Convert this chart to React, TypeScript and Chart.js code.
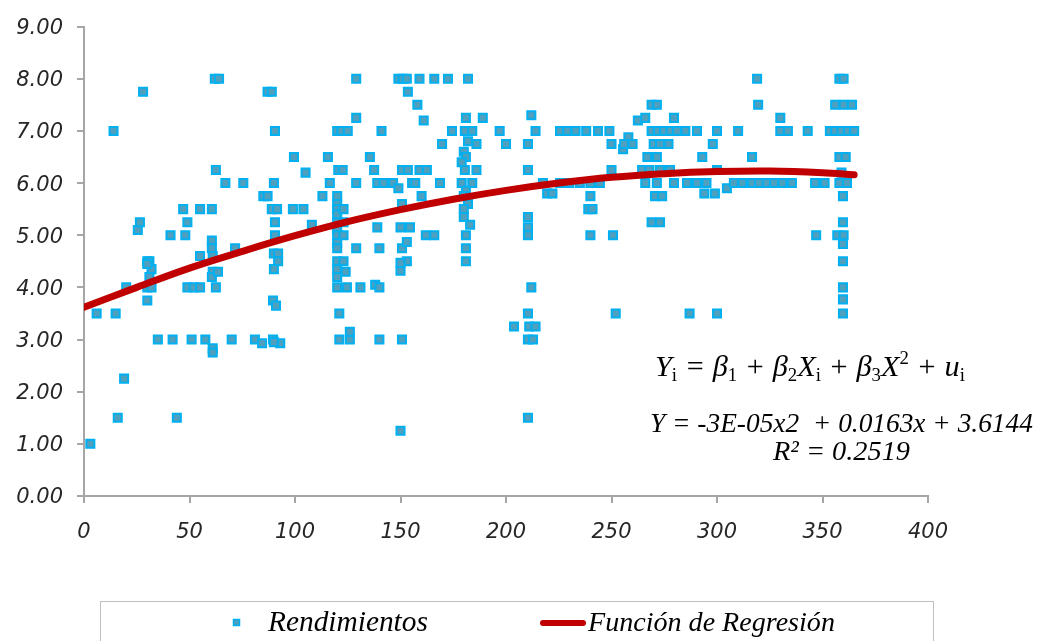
import React, { useEffect, useRef } from 'react';
import { Chart, registerables } from 'chart.js';

Chart.register(...registerables);

// ---- Data: [day, yield] pairs ----
const days0to45: [number, number][] = [
  [3, 1.0], [6, 3.5], [14, 7.0], [15, 3.5], [16, 1.5], [19, 2.25], [20, 4.0],
  [25.5, 5.1], [26.5, 5.25], [28, 7.75], [30, 4.5], [31, 4.5], [32, 4.35], [31, 4.2],
  [30, 4.0], [32, 4.0], [30, 3.75], [30, 4.45], [35, 3.0], [41, 5.0], [42, 3.0], [44, 1.5],
];
const days46to95: [number, number][] = [
  [47, 5.5], [48, 5.0], [49, 5.25], [49, 4.0], [51, 3.0], [52, 4.0], [55, 5.5], [55, 4.6],
  [55, 4.0], [57.5, 3.0], [60.6, 5.5], [60.6, 4.9], [60.6, 4.75], [61, 4.6], [61, 4.3],
  [60.6, 4.2], [61, 2.83], [61, 2.75], [62.5, 6.25], [62.5, 4.0], [63.5, 4.3], [62, 8.0],
  [64, 8.0], [67, 6.0], [70, 3.0], [71.6, 4.75], [75.5, 6.0], [81, 3.0], [84.4, 2.93],
  [85, 5.75], [87, 5.75], [87, 7.75], [89, 7.75], [90.5, 7.0], [90, 6.0], [89, 5.5],
  [91.5, 5.5], [90.5, 5.25], [90.5, 5.0], [90, 4.65], [92, 4.65], [92, 4.5], [90, 4.35],
  [89.6, 3.75], [91, 3.65], [89.6, 3.0], [93, 2.93], [90, 2.95],
];
const days96to146: [number, number][] = [
  [99.5, 6.5], [99, 5.5], [104, 5.5], [105, 6.2], [108, 5.2], [113, 5.75], [115.6, 6.5],
  [116.5, 6.0], [120, 7.0], [122, 7.0], [125, 7.0], [120.5, 6.25], [122.6, 6.25],
  [120, 5.75], [120, 5.6], [120, 5.5], [120, 5.4], [120, 5.25], [120, 5.1], [120, 5.0],
  [120, 4.85], [120, 4.75], [120, 4.5], [120, 4.35], [120, 4.2], [120, 4.0],
  [123, 5.5], [123, 5.25], [123, 5.0], [123, 4.5], [124, 4.3], [124.6, 4.0], [121, 3.5],
  [121, 3.0], [126, 3.0], [126, 3.15], [129, 8.0], [129, 7.25], [129, 6.0], [129, 4.75],
  [131, 4.0], [135.5, 6.5], [137.5, 6.25], [139, 6.0], [142, 6.0], [146.5, 6.0],
  [139, 5.15], [140, 4.75], [138, 4.05], [140, 4.0], [141, 7.0], [140, 3.0],
];
const days147to190: [number, number][] = [
  [149, 8.0], [151, 8.0], [153, 8.0], [153.5, 7.75], [158, 7.5], [159, 8.0], [161, 7.2],
  [166, 8.0], [149, 5.9], [150.7, 6.25], [153.5, 6.25], [150.7, 5.6], [150, 5.15],
  [154.5, 5.15], [150.7, 4.75], [153, 4.87], [153, 4.5], [150, 4.32], [150, 4.47],
  [150.7, 3.0], [150, 1.25], [155.5, 6.0], [157, 6.0], [159, 6.25], [162.5, 6.25],
  [160, 5.75], [162, 5.0], [166, 5.0], [172.5, 8.0], [182, 8.0], [169.7, 6.75],
  [168.7, 6.0], [174.4, 7.0], [180.5, 7.0], [184, 7.0], [181, 7.25], [189, 7.25],
  [186, 6.75], [180, 6.6], [182, 6.8], [181, 6.5], [179, 6.4], [180.5, 6.25], [186, 6.25],
  [179, 6.0], [184, 6.0], [181, 5.85], [180, 5.75], [182, 5.6], [180, 5.5], [180, 5.35],
  [183, 5.2], [181, 5.0], [181, 4.75], [181, 4.5],
];
const days191to250: [number, number][] = [
  [197, 7.0], [200, 6.75], [203.8, 3.25], [210.4, 6.75], [210.4, 6.25], [210.4, 5.35],
  [210.4, 5.15], [210.4, 5.0], [210.4, 3.5], [210.4, 3.0], [212.8, 3.0], [211, 3.25],
  [214, 3.25], [210.4, 1.5], [212, 7.3], [214, 7.0], [212, 4.0], [217.5, 6.0],
  [219.5, 5.8], [222, 5.8], [225.6, 6.0], [225.6, 7.0], [229, 7.0], [233, 7.0], [238, 7.0],
  [230, 6.0], [235, 6.0], [240, 6.0], [244.5, 6.0], [240, 5.75], [239, 5.5], [241, 5.5],
  [240, 5.0], [243.6, 7.0], [249, 7.0], [250, 6.75], [250, 6.25], [250.7, 5.0],
];
const days251to320: [number, number][] = [
  [252, 3.5], [255.5, 6.65], [258, 6.88], [256, 6.75], [260, 6.75], [262.5, 7.2],
  [266, 7.25], [264.5, 6.25], [268, 6.25], [273, 6.25], [266, 6.0], [271.5, 6.0],
  [267, 6.5], [271.5, 6.5], [269, 7.5], [271.5, 7.5], [269, 7.0], [272, 7.0], [275, 7.0],
  [278, 7.0], [281, 7.0], [285, 7.0], [270, 6.75], [273, 6.75], [277, 6.75], [270.6, 5.75],
  [274, 5.75], [269, 5.25], [273, 5.25], [277.7, 6.25], [279.6, 7.25], [279.6, 6.0],
  [285.8, 6.0], [287, 3.5], [290.5, 7.0], [290.5, 6.0], [293, 6.5], [295, 6.0], [294, 5.8],
  [299, 5.8], [298, 6.75], [300, 7.0], [300, 6.25], [300, 3.5], [304.7, 5.9], [308, 6.0],
  [310, 7.0], [312, 6.0], [316.6, 6.5], [316.6, 6.0], [319, 8.0], [319.5, 7.5], [320, 6.0],
];
const days321to365: [number, number][] = [
  [323.6, 6.0], [327, 6.0], [330, 7.25], [330, 7.0], [331, 6.0], [333.6, 7.0], [335.5, 6.0],
  [343, 7.0], [346.5, 6.0], [347, 5.0], [351, 6.0], [353.5, 7.0], [356, 7.0], [359, 7.0],
  [362, 7.0], [365, 7.0], [358, 8.0], [360, 8.0], [356, 7.5], [360, 7.5], [364, 7.5],
  [358, 6.5], [361, 6.5], [359, 6.2], [358, 6.0], [361.6, 6.0], [359.7, 5.75],
  [359.7, 5.25], [357, 5.0], [360, 5.0], [359.7, 4.83], [359.7, 4.5], [359.7, 4.0],
  [359.7, 3.77], [359.7, 3.5],
];

// Regression curve
const regX = [0, 25, 50, 75, 100, 125, 150, 175, 200, 225, 250, 275, 300, 325, 350, 365];
const regY = [3.62, 4.0, 4.37, 4.69, 4.99, 5.26, 5.49, 5.69, 5.86, 6.0, 6.11, 6.18, 6.22, 6.23, 6.2, 6.16];

const xMin = 0, xMax = 400, xStep = 50;
const yMin = 0, yMax = 9, yStep = 1;

const seriesName = 'Rendimientos';
const regName = 'Función de Regresión';
const eqLine2 = 'Y = -3E-05x2  + 0.0163x + 3.6144';
const eqLine3 = 'R² = 0.2519';

const MARK_FILL = '#4f9fbf';
const MARK_BORDER = '#00b0f0';
const REG_COLOR = '#c00000';
const AXIS_COLOR = '#a6a6a6';
const TEXT_COLOR = '#262626';

type Run = { t: string; k: 'n' | 'sub' | 'sup' };
const eqLine1: Run[] = [
  { t: 'Y', k: 'n' }, { t: 'i', k: 'sub' }, { t: ' = ', k: 'n' },
  { t: 'β', k: 'n' }, { t: '1', k: 'sub' }, { t: ' + ', k: 'n' },
  { t: 'β', k: 'n' }, { t: '2', k: 'sub' }, { t: 'X', k: 'n' }, { t: 'i', k: 'sub' }, { t: ' + ', k: 'n' },
  { t: 'β', k: 'n' }, { t: '3', k: 'sub' }, { t: 'X', k: 'n' }, { t: '2', k: 'sup' }, { t: ' + ', k: 'n' },
  { t: 'u', k: 'n' }, { t: 'i', k: 'sub' },
];

const SERIF = '"Liberation Serif", "DejaVu Serif", serif';

function fitSize(c: CanvasRenderingContext2D, text: string, target: number) {
  c.font = `italic 100px ${SERIF}`;
  return (100 * target) / c.measureText(text).width;
}

const overlay = {
  id: 'overlay',
  afterDraw(chart: any) {
    const c: CanvasRenderingContext2D = chart.ctx;
    c.save();
    c.fillStyle = '#000';
    c.textBaseline = 'alphabetic';
    c.textAlign = 'left';

    // Equation line 1 with sub/superscripts
    const measureRuns = (size: number) => {
      let w = 0;
      for (const r of eqLine1) {
        const s = r.k === 'n' ? size : size * 0.62;
        c.font = `${r.k === 'n' ? 'italic ' : ''}${s}px ${SERIF}`;
        w += c.measureText(r.t).width;
      }
      return w;
    };
    const w100 = measureRuns(100);
    const s1 = (100 * 310) / w100;
    let x = 655;
    const base1 = 376;
    for (const r of eqLine1) {
      const s = r.k === 'n' ? s1 : s1 * 0.62;
      c.font = `${r.k === 'n' ? 'italic ' : ''}${s}px ${SERIF}`;
      const dy = r.k === 'sub' ? s1 * 0.18 : r.k === 'sup' ? -s1 * 0.38 : 0;
      c.fillText(r.t, x, base1 + dy);
      x += c.measureText(r.t).width;
    }

    const s2 = fitSize(c, eqLine2, 383);
    c.font = `italic ${s2}px ${SERIF}`;
    c.fillText(eqLine2, 650, 432);
    const s3 = fitSize(c, eqLine3, 137);
    c.font = `italic ${s3}px ${SERIF}`;
    c.fillText(eqLine3, 773, 460);

    // Legend box
    c.strokeStyle = '#bfbfbf';
    c.lineWidth = 1;
    c.strokeRect(100.5, 601.5, 833, 80);
    // marker
    c.fillStyle = MARK_FILL;
    c.strokeStyle = MARK_BORDER;
    c.lineWidth = 1.5;
    c.fillRect(233.5, 619.5, 6, 6);
    c.strokeRect(233.5, 619.5, 6, 6);
    // line
    c.strokeStyle = REG_COLOR;
    c.lineWidth = 6;
    c.lineCap = 'round';
    c.beginPath();
    c.moveTo(543, 623);
    c.lineTo(583, 623);
    c.stroke();
    // texts
    c.fillStyle = '#000';
    const sl1 = fitSize(c, seriesName, 160);
    c.font = `italic ${sl1}px ${SERIF}`;
    c.fillText(seriesName, 268, 631);
    const sl2 = fitSize(c, regName, 247);
    c.font = `italic ${sl2}px ${SERIF}`;
    c.fillText(regName, 588, 631);
    c.restore();
  },
};

export default function App() {
  const ref = useRef<HTMLCanvasElement>(null);
  useEffect(() => {
    document.body.style.margin = '0';
    const canvas = ref.current!;
    const toPts = (arr: [number, number][]) => arr.map(([x, y]) => ({ x, y }));
    const scatterPts = [
      ...days0to45, ...days46to95, ...days96to146, ...days147to190,
      ...days191to250, ...days251to320, ...days321to365,
    ];
    const regPts = regX.map((x, i) => ({ x, y: regY[i] }));
    const tickFont = { family: '"DejaVu Sans", Verdana, sans-serif', size: 21, style: 'italic' as const };

    const chart = new Chart(canvas, {
      type: 'scatter',
      data: {
        datasets: [
          {
            label: regName,
            data: regPts,
            showLine: true,
            borderColor: REG_COLOR,
            backgroundColor: REG_COLOR,
            borderWidth: 7,
            borderCapStyle: 'round',
            pointRadius: 0,
            tension: 0.4,
            order: 0,
          } as any,
          {
            label: seriesName,
            data: toPts(scatterPts),
            pointStyle: 'rect',
            pointRadius: 5.7,
            pointBorderWidth: 2,
            backgroundColor: MARK_FILL,
            borderColor: MARK_BORDER,
            order: 1,
          } as any,
        ],
      },
      options: {
        responsive: false,
        animation: false,
        devicePixelRatio: 1,
        layout: { padding: { top: 21, right: 114, bottom: 0, left: 0 } },
        plugins: { legend: { display: false }, tooltip: { enabled: false } },
        scales: {
          x: {
            type: 'linear',
            min: xMin,
            max: xMax,
            afterFit: (s: any) => { s.height = 145; },
            border: { color: AXIS_COLOR, width: 2 },
            grid: { display: true, drawOnChartArea: false, drawTicks: true, tickLength: 7, color: AXIS_COLOR, lineWidth: 2 },
            ticks: { stepSize: xStep, font: tickFont, color: TEXT_COLOR, padding: 17, maxRotation: 0 },
          },
          y: {
            type: 'linear',
            min: yMin,
            max: yMax,
            afterFit: (s: any) => { s.width = 84; },
            border: { color: AXIS_COLOR, width: 2 },
            grid: { display: true, drawOnChartArea: false, drawTicks: true, tickLength: 7, color: AXIS_COLOR, lineWidth: 2 },
            ticks: {
              stepSize: yStep,
              font: tickFont,
              color: TEXT_COLOR,
              padding: 14,
              labelOffset: 2,
              callback: (v: any) => Number(v).toFixed(2),
            },
          },
        },
      },
      plugins: [overlay],
    });
    return () => chart.destroy();
  }, []);
  return (
    <div style={{ position: 'absolute', left: 0, top: 0, width: 1042, height: 641, overflow: 'hidden' }}>
      <canvas ref={ref} width={1042} height={641} style={{ display: 'block' }} />
    </div>
  );
}
